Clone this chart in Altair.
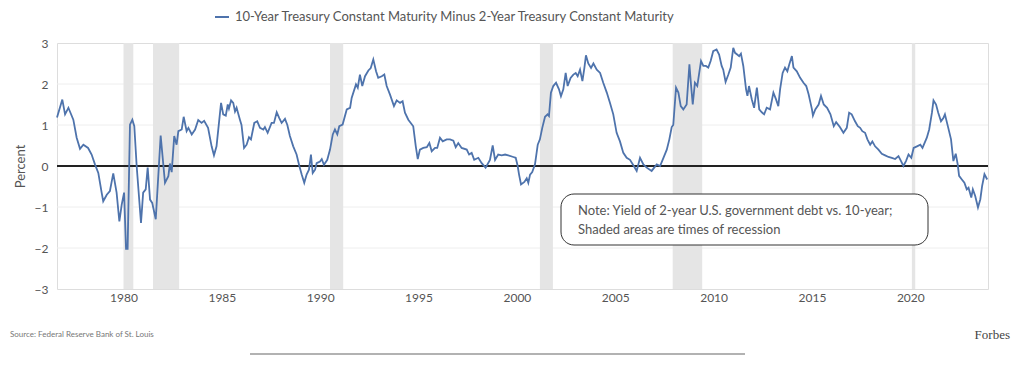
import altair as alt
import pandas as pd

# ---- data (decimal year, percent) ----
years = [
    1976.62, 1976.89, 1977.03, 1977.2, 1977.45, 1977.62, 1977.79, 1977.96, 1978.2, 1978.38,
    1978.55, 1978.72, 1978.89, 1978.97, 1979.15, 1979.31, 1979.48, 1979.65, 1979.79, 1979.91,
    1980.03, 1980.13, 1980.21, 1980.33, 1980.45, 1980.55, 1980.67, 1980.89, 1981.0, 1981.13,
    1981.23, 1981.35, 1981.46, 1981.64, 1981.89, 1982.11, 1982.28, 1982.36, 1982.45, 1982.58,
    1982.7, 1982.79, 1982.96, 1983.06, 1983.21, 1983.3, 1983.47, 1983.64, 1983.8, 1983.97,
    1984.1, 1984.3, 1984.48, 1984.6, 1984.73, 1984.96, 1985.07, 1985.2, 1985.3, 1985.36,
    1985.47, 1985.58, 1985.67, 1985.75, 1985.92, 1986.0, 1986.13, 1986.26, 1986.38, 1986.48,
    1986.65, 1986.8, 1986.94, 1987.11, 1987.19, 1987.33, 1987.53, 1987.65, 1987.79, 1987.92,
    1988.04, 1988.21, 1988.33, 1988.46, 1988.63, 1988.8, 1988.94, 1989.06, 1989.19, 1989.31,
    1989.43, 1989.53, 1989.62, 1989.74, 1989.82, 1989.99, 1990.08, 1990.19, 1990.36, 1990.5,
    1990.64, 1990.75, 1990.87, 1990.97, 1991.14, 1991.35, 1991.52, 1991.6, 1991.82, 1991.91,
    1992.02, 1992.14, 1992.28, 1992.45, 1992.57, 1992.7, 1992.84, 1992.95, 1993.13, 1993.26,
    1993.38, 1993.55, 1993.75, 1993.89, 1994.06, 1994.19, 1994.31, 1994.48, 1994.73, 1994.86,
    1994.96, 1995.07, 1995.24, 1995.42, 1995.55, 1995.67, 1995.84, 1995.95, 1996.09, 1996.23,
    1996.43, 1996.6, 1996.77, 1996.89, 1997.02, 1997.19, 1997.45, 1997.57, 1997.7, 1997.83,
    1998.04, 1998.21, 1998.41, 1998.63, 1998.77, 1998.89, 1999.05, 1999.23, 1999.4, 1999.56,
    1999.82, 1999.94, 2000.04, 2000.11, 2000.21, 2000.38, 2000.5, 2000.58, 2000.67, 2000.78,
    2000.92, 2001.06, 2001.17, 2001.29, 2001.43, 2001.56, 2001.63, 2001.73, 2001.85, 2001.99,
    2002.14, 2002.24, 2002.36, 2002.48, 2002.58, 2002.73, 2002.87, 2002.99, 2003.09, 2003.21,
    2003.33, 2003.43, 2003.51, 2003.63, 2003.77, 2003.89, 2004.06, 2004.23, 2004.39, 2004.57,
    2004.73, 2004.9, 2005.07, 2005.24, 2005.41, 2005.58, 2005.75, 2005.92, 2006.09, 2006.26,
    2006.43, 2006.6, 2006.85, 2007.11, 2007.28, 2007.45, 2007.62, 2007.75, 2007.87, 2007.95,
    2008.09, 2008.21, 2008.33, 2008.46, 2008.63, 2008.77, 2008.85, 2008.94, 2009.05, 2009.17,
    2009.27, 2009.36, 2009.48, 2009.61, 2009.73, 2009.85, 2009.98, 2010.15, 2010.28, 2010.41,
    2010.49, 2010.61, 2010.75, 2010.87, 2011.0, 2011.09, 2011.2, 2011.3, 2011.39, 2011.51,
    2011.65, 2011.72, 2011.8, 2011.94, 2012.06, 2012.2, 2012.32, 2012.45, 2012.57, 2012.7,
    2012.87, 2013.04, 2013.17, 2013.29, 2013.38, 2013.51, 2013.63, 2013.75, 2013.85, 2013.98,
    2014.06, 2014.23, 2014.4, 2014.57, 2014.71, 2014.83, 2015.0, 2015.05, 2015.17, 2015.34,
    2015.46, 2015.6, 2015.77, 2015.94, 2016.11, 2016.23, 2016.42, 2016.6, 2016.77, 2016.89,
    2017.02, 2017.19, 2017.33, 2017.45, 2017.56, 2017.7, 2017.82, 2017.96, 2018.07, 2018.21,
    2018.38, 2018.55, 2018.72, 2018.89, 2019.06, 2019.23, 2019.4, 2019.53, 2019.65, 2019.78,
    2019.91, 2020.05, 2020.17, 2020.34, 2020.51, 2020.62, 2020.76, 2020.84, 2020.96, 2021.1,
    2021.18, 2021.31, 2021.42, 2021.56, 2021.68, 2021.76, 2021.93, 2022.07, 2022.19, 2022.31,
    2022.41, 2022.48, 2022.62, 2022.75, 2022.87, 2022.96, 2023.1, 2023.18, 2023.3, 2023.44,
    2023.56, 2023.65, 2023.77, 2023.91,
]
spread = [
    1.18, 1.62, 1.26, 1.42, 1.13, 0.69, 0.42, 0.52, 0.44, 0.28,
    0.04, -0.17, -0.65, -0.86, -0.70, -0.61, -0.18, -0.65, -1.35, -0.94,
    -0.65, -2.02, -2.02, 1.01, 1.13, 0.97, 0.0, -1.39, -0.65, -0.57,
    -0.04, -0.82, -0.90, -1.30, 0.74, -0.41, -0.25, 0.06, -0.15, 0.73,
    0.52, 0.85, 0.89, 1.2, 0.85, 0.93, 0.77, 0.89, 1.12, 1.05,
    1.1, 0.93, 0.48, 0.26, 0.48, 1.54, 1.26, 1.23, 1.5, 1.4,
    1.6, 1.54, 1.33, 1.42, 1.13, 1.0, 0.44, 0.52, 0.7, 0.65,
    1.05, 1.09, 0.93, 0.89, 0.95, 0.81, 1.05, 1.05, 1.31, 1.17,
    1.05, 1.15, 1.0, 0.73, 0.48, 0.28, 0.0, -0.21, -0.41, -0.21,
    -0.09, 0.28, -0.17, -0.09, 0.07, 0.11, 0.17, 0.03, 0.15, 0.4,
    0.77, 0.89, 0.77, 0.97, 1.01, 1.38, 1.42, 1.66, 1.99, 1.91,
    2.23, 1.95, 2.19, 2.33, 2.39, 2.6, 2.31, 2.15, 2.19, 2.23,
    1.95, 1.74, 1.46, 1.6, 1.54, 1.58, 1.3, 1.13, 0.97, 0.48,
    0.17, 0.4, 0.44, 0.46, 0.56, 0.36, 0.44, 0.44, 0.69, 0.6,
    0.65, 0.65, 0.62, 0.46, 0.56, 0.44, 0.4, 0.28, 0.32, 0.15,
    0.2, 0.07, -0.04, 0.15, 0.5, 0.15, 0.28, 0.26, 0.28, 0.26,
    0.22, 0.2, 0.0, -0.21, -0.45, -0.39, -0.3, -0.41, -0.21, -0.15,
    0.04, 0.52, 0.65, 0.93, 1.2, 1.26, 1.22, 1.79, 1.95, 2.03,
    1.87, 1.7, 1.87, 2.27, 1.95, 2.15, 2.23, 2.27, 2.19, 2.35,
    2.07, 2.39, 2.7, 2.5, 2.39, 2.5, 2.35, 2.27, 2.03, 1.79,
    1.54, 1.26, 0.81, 0.6, 0.32, 0.2, 0.15, 0.02, -0.12, 0.2,
    0.04, -0.04, -0.12, 0.04, 0.0, 0.2, 0.4, 0.65, 0.95, 1.0,
    1.91, 1.79, 1.46, 1.38, 1.5, 2.48, 1.99, 1.5, 2.03, 1.95,
    2.27, 2.56, 2.44, 2.44, 2.4, 2.56, 2.8, 2.84, 2.72, 2.44,
    2.35, 2.05, 2.23, 2.4, 2.88, 2.76, 2.72, 2.68, 2.74, 2.44,
    1.87, 1.71, 1.95, 1.63, 1.42, 1.91, 1.38, 1.31, 1.26, 1.42,
    1.38, 1.79, 1.63, 1.46, 1.87, 2.27, 2.4, 2.31, 2.48, 2.68,
    2.4, 2.31, 2.15, 2.03, 1.95, 1.75, 1.38, 1.23, 1.38, 1.5,
    1.71, 1.5, 1.42, 1.26, 0.97, 1.07, 0.95, 0.81, 0.93, 1.3,
    1.26, 1.09, 0.97, 0.93, 0.85, 0.81, 0.65, 0.52, 0.6, 0.48,
    0.4, 0.3, 0.26, 0.22, 0.2, 0.17, 0.24, 0.12, 0.0, 0.12,
    0.28, 0.2, 0.44, 0.48, 0.52, 0.44, 0.6, 0.69, 0.89, 1.3,
    1.6, 1.5, 1.3, 1.09, 1.17, 1.26, 0.93, 0.65, 0.12, 0.3,
    0.04, -0.24, -0.33, -0.41, -0.57, -0.53, -0.77, -0.57, -0.73, -1.01,
    -0.81, -0.49, -0.2, -0.33,
]
rec_start = [1980.0, 1981.5, 1990.5, 2001.17, 2007.92, 2020.08]
rec_end = [1980.5, 1982.83, 1991.17, 2001.83, 2009.42, 2020.25]
x_ticks = [1980, 1985, 1990, 1995, 2000, 2005, 2010, 2015, 2020]
y_ticks = [-3, -2, -1, 0, 1, 2, 3]
grid_vals = [-2, -1, 1, 2]
series_name = "10-Year Treasury Constant Maturity Minus 2-Year Treasury Constant Maturity"
note_lines = ["Note: Yield of 2-year U.S. government debt vs. 10-year;",
              "Shaded areas are times of recession"]
source_text = "Source: Federal Reserve Bank of St. Louis"
brand_text = "Forbes"

W, H = 931, 246
FONT = "Lato"
BLUE = "#4e73ac"

line_df = pd.DataFrame({"year": years, "value": spread, "series": series_name})
rec_df = pd.DataFrame({"start": rec_start, "end": rec_end})
grid_df = pd.DataFrame({"g": grid_vals})
one = pd.DataFrame({"k": [0]})

xscale = alt.Scale(domain=[1976.62, 2023.95], nice=False, zero=False)
yscale = alt.Scale(domain=[-3, 3], nice=False)

grid = alt.Chart(grid_df).mark_rule(color="#eeeeee", strokeWidth=1).encode(
    y=alt.Y("g:Q", scale=yscale)
)

shade = alt.Chart(rec_df).mark_rect(color="#e5e5e5").encode(
    x=alt.X("start:Q", scale=xscale,
            axis=alt.Axis(values=x_ticks, format="d", title=None, grid=False, ticks=False,
                          domain=False, labelPadding=3, labelFontSize=12, labelColor="#555",
                          labelFont=FONT)),
    x2="end:Q",
    y=alt.value(0),
    y2=alt.value(H),
)

zero = alt.Chart(one).mark_rule(color="#222", strokeWidth=2).encode(
    y=alt.datum(0, scale=yscale)
)

line = alt.Chart(line_df).mark_line(strokeWidth=1.8).encode(
    x=alt.X("year:Q", scale=xscale),
    y=alt.Y("value:Q", scale=yscale,
            axis=alt.Axis(values=y_ticks, title="Percent", grid=False,
                          ticks=False, domain=False, labelPadding=9, labelFontSize=12,
                          labelColor="#555", labelFont=FONT, titleFont=FONT,
                          titleFontSize=13, titleFontWeight="normal", titleColor="#555",
                          titleX=-37, titleY=H / 2, titleAngle=270, titleAlign="center",
                          titleBaseline="middle")),
    color=alt.Color("series:N", scale=alt.Scale(range=[BLUE]),
                    legend=alt.Legend(title=None, orient="none", legendX=157, legendY=-34,
                                      symbolType="stroke", symbolSize=196,
                                      symbolStrokeWidth=2, labelFontSize=13,
                                      labelColor="#555", labelFont=FONT, labelOffset=5,
                                      labelLimit=0, padding=0)),
)

box = alt.Chart(one).mark_rect(cornerRadius=13, fill="white", stroke="#333",
                               strokeWidth=1).encode(
    x=alt.value(504), x2=alt.value(871), y=alt.value(151), y2=alt.value(202)
)
note1 = alt.Chart(one).mark_text(align="left", baseline="middle", font=FONT, fontSize=13,
                                 color="#555").encode(
    x=alt.value(521), y=alt.value(168), text=alt.value(note_lines[0]))
note2 = alt.Chart(one).mark_text(align="left", baseline="middle", font=FONT, fontSize=13,
                                 color="#555").encode(
    x=alt.value(521), y=alt.value(186.5), text=alt.value(note_lines[1]))

source = alt.Chart(one).mark_text(align="left", baseline="middle", font=FONT, fontSize=8,
                                  color="#777").encode(
    x=alt.value(-47), y=alt.value(292), text=alt.value(source_text))
brand = alt.Chart(one).mark_text(align="right", baseline="middle", font="Liberation Serif",
                                 fontSize=13, color="#444").encode(
    x=alt.value(953), y=alt.value(292), text=alt.value(brand_text))
bottom_rule = alt.Chart(one).mark_rule(color="#999", strokeWidth=1.5).encode(
    x=alt.value(193), x2=alt.value(688), y=alt.value(311))

chart = alt.layer(grid, shade, zero, line, box, note1, note2, source, brand,
                  bottom_rule).properties(
    width=W, height=H,
    padding={"left": 49, "top": 35, "right": 28, "bottom": 74},
    autosize=alt.AutoSizeParams(type="none"),
).configure_view(stroke=None).configure(font=FONT)

chart.save("out.html", embed_options={"renderer": "svg", "actions": False})
